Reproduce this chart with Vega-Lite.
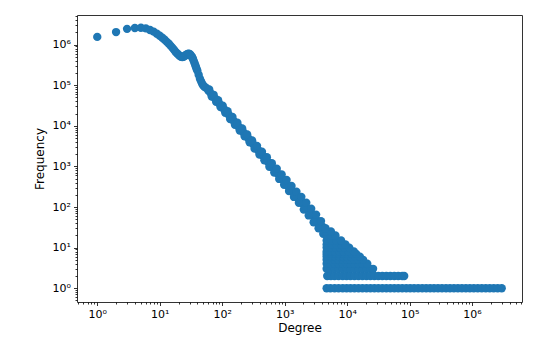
{
"$schema": "https://vega.github.io/schema/vega-lite/v6.json",
"width": 445, "height": 287,
"autosize": {"type": "none"},
"padding": {"left": 77, "top": 15, "right": 16, "bottom": 49},
"background": "white",
"config": {"view": {"stroke": "#333333", "strokeWidth": 1}, "font": "DejaVu Sans"},
"data": {"values": [
{"d":1,"f":1550000},{"d":2,"f":2040000},{"d":3,"f":2450000},{"d":4,"f":2570000},{"d":5,"f":2600000},{"d":6,"f":2510000},{"d":7,"f":2290000},{"d":8,"f":2090000},{"d":9,"f":1860000},{"d":10,"f":1660000},
{"d":11,"f":1480000},{"d":12,"f":1320000},{"d":13,"f":1170000},{"d":14,"f":1050000},{"d":15,"f":933000},{"d":16,"f":832000},{"d":17,"f":741000},{"d":18,"f":661000},{"d":19,"f":610000},{"d":20,"f":562000},
{"d":21,"f":525000},{"d":22,"f":501000},{"d":23,"f":495000},{"d":24,"f":501000},{"d":25,"f":525000},{"d":26,"f":550000},{"d":27,"f":575000},{"d":28,"f":589000},{"d":29,"f":596000},{"d":30,"f":589000},
{"d":31,"f":562000},{"d":32,"f":525000},{"d":33,"f":490000},{"d":34,"f":447000},{"d":35,"f":398000},{"d":36,"f":355000},{"d":37,"f":316000},{"d":38,"f":282000},{"d":39,"f":251000},{"d":40,"f":229000},
{"d":42,"f":182000},{"d":44,"f":145000},{"d":46,"f":123000},{"d":48,"f":107000},{"d":50,"f":97700},{"d":52,"f":91200},{"d":55,"f":86900},{"d":60,"f":74100},{"d":65,"f":63900},{"d":70,"f":55800},
{"d":76,"f":48000},{"d":83,"f":40800},{"d":90,"f":35200},{"d":98,"f":30100},{"d":107,"f":25600},{"d":117,"f":21700},{"d":128,"f":18400},{"d":140,"f":15600},{"d":153,"f":13200},{"d":167,"f":11300},
{"d":183,"f":9530},{"d":200,"f":8090},{"d":219,"f":6860},{"d":240,"f":5780},{"d":263,"f":4890},{"d":288,"f":4140},{"d":315,"f":3510},{"d":345,"f":2970},{"d":378,"f":2510},{"d":414,"f":2120},
{"d":453,"f":1790},{"d":496,"f":1520},{"d":543,"f":1290},{"d":595,"f":1090},{"d":651,"f":923},{"d":713,"f":782},{"d":781,"f":661},{"d":855,"f":559},{"d":936,"f":473},{"d":1025,"f":400},
{"d":1122,"f":339},{"d":1229,"f":286},{"d":1345,"f":242},{"d":1473,"f":205},{"d":1613,"f":173},{"d":1766,"f":147},{"d":1933,"f":124},{"d":2117,"f":105},{"d":2318,"f":89},{"d":2538,"f":75},
{"d":2779,"f":64},{"d":3043,"f":54},{"d":3331,"f":46},{"d":3648,"f":39},{"d":3994,"f":33},{"d":4300,"f":29},
{"d":62,"f":78300},{"d":68,"f":52500},{"d":73,"f":58000},{"d":80,"f":38900},{"d":86,"f":42900},{"d":94,"f":28900},{"d":102,"f":31300},{"d":112,"f":20900},{"d":122,"f":23000},{"d":134,"f":14700},
{"d":146,"f":16600},{"d":160,"f":10600},{"d":175,"f":11900},{"d":191,"f":7670},{"d":209,"f":8570},{"d":229,"f":5490},{"d":251,"f":6110},{"d":275,"f":3920},{"d":301,"f":4380},{"d":330,"f":2740},
{"d":361,"f":3210},{"d":395,"f":1970},{"d":433,"f":2290},{"d":474,"f":1410},{"d":519,"f":1680},{"d":569,"f":982},{"d":623,"f":1200},{"d":682,"f":704},{"d":747,"f":881},{"d":818,"f":492},
{"d":895,"f":631},{"d":980,"f":353},{"d":1073,"f":462},{"d":1175,"f":247},{"d":1287,"f":331},{"d":1409,"f":177},{"d":1543,"f":237},{"d":1690,"f":127},{"d":1849,"f":178},{"d":2025,"f":87},
{"d":2217,"f":127},{"d":2428,"f":62},{"d":2658,"f":91},{"d":2910,"f":42},{"d":3187,"f":65},{"d":3490,"f":30},{"d":3820,"f":45},{"d":4150,"f":22},
{"d":4700,"f":1},{"d":5400,"f":1},{"d":6300,"f":1},{"d":7300,"f":1},{"d":8500,"f":1},{"d":9800,"f":1},{"d":11300,"f":1},{"d":13100,"f":1},{"d":15200,"f":1},{"d":17600,"f":1},
{"d":20400,"f":1},{"d":23600,"f":1},{"d":27300,"f":1},{"d":31600,"f":1},{"d":36600,"f":1},{"d":42400,"f":1},{"d":49100,"f":1},{"d":56900,"f":1},{"d":65800,"f":1},{"d":76200,"f":1},
{"d":88300,"f":1},{"d":102000,"f":1},{"d":118000,"f":1},{"d":137000,"f":1},{"d":159000,"f":1},{"d":184000,"f":1},{"d":213000,"f":1},{"d":246000,"f":1},{"d":285000,"f":1},{"d":330000,"f":1},
{"d":383000,"f":1},{"d":443000,"f":1},{"d":513000,"f":1},{"d":594000,"f":1},{"d":688000,"f":1},{"d":797000,"f":1},{"d":923000,"f":1},{"d":1068000,"f":1},{"d":1237000,"f":1},{"d":1432000,"f":1},
{"d":1659000,"f":1},{"d":1921000,"f":1},{"d":2224000,"f":1},{"d":2575000,"f":1},{"d":2982000,"f":1},
{"d":4800,"f":2},{"d":5500,"f":2},{"d":6300,"f":2},{"d":7300,"f":2},{"d":8500,"f":2},{"d":9800,"f":2},{"d":11300,"f":2},{"d":13100,"f":2},{"d":15200,"f":2},{"d":17600,"f":2},
{"d":20400,"f":2},{"d":23600,"f":2},{"d":27300,"f":2},{"d":31600,"f":2},{"d":36600,"f":2},{"d":42400,"f":2},{"d":49100,"f":2},{"d":56900,"f":2},{"d":65800,"f":2},{"d":76200,"f":2},{"d":82000,"f":2},
{"d":4700,"f":3},{"d":5400,"f":3},{"d":6300,"f":3},{"d":7300,"f":3},{"d":8500,"f":3},{"d":9800,"f":3},{"d":11300,"f":3},{"d":13100,"f":3},{"d":15200,"f":3},{"d":17600,"f":3},{"d":20400,"f":3},{"d":23600,"f":3},{"d":26000,"f":3},
{"d":4700,"f":4},{"d":5400,"f":4},{"d":6300,"f":4},{"d":7300,"f":4},{"d":8500,"f":4},{"d":9800,"f":4},{"d":11300,"f":4},{"d":13100,"f":4},{"d":15200,"f":4},{"d":17600,"f":4},{"d":21000,"f":4},
{"d":4700,"f":5},{"d":5400,"f":5},{"d":6300,"f":5},{"d":7300,"f":5},{"d":8500,"f":5},{"d":9800,"f":5},{"d":11300,"f":5},{"d":13100,"f":5},{"d":15200,"f":5},{"d":18000,"f":5},
{"d":4700,"f":6},{"d":5500,"f":6},{"d":6400,"f":6},{"d":7400,"f":6},{"d":8600,"f":6},{"d":10000,"f":6},{"d":11600,"f":6},{"d":13500,"f":6},{"d":16000,"f":6},
{"d":4700,"f":7},{"d":5500,"f":7},{"d":6400,"f":7},{"d":7400,"f":7},{"d":8600,"f":7},{"d":10000,"f":7},{"d":11800,"f":7},{"d":14000,"f":7},
{"d":4700,"f":8},{"d":5500,"f":8},{"d":6400,"f":8},{"d":7500,"f":8},{"d":8800,"f":8},{"d":10500,"f":8},{"d":12800,"f":8},
{"d":4700,"f":10},{"d":5500,"f":10},{"d":6500,"f":10},{"d":7700,"f":10},{"d":9100,"f":10},{"d":10800,"f":10},
{"d":4700,"f":12},{"d":5600,"f":12},{"d":6700,"f":12},{"d":8000,"f":12},{"d":9400,"f":12},
{"d":4700,"f":15},{"d":5600,"f":15},{"d":6700,"f":15},{"d":8000,"f":15},
{"d":4700,"f":20},{"d":5500,"f":20},{"d":6500,"f":20},
{"d":4600,"f":25},{"d":5500,"f":25},{"d":4500,"f":30}
]},
"mark": {"type": "circle", "size": 70, "color": "#1f77b4", "opacity": 1},
"encoding": {
 "x": {"field": "d", "type": "quantitative",
  "scale": {"type": "log", "domain": [0.474, 6300000], "nice": false},
  "axis": {"title": "Degree",
   "values": [0.5,0.6,0.7,0.8,0.9,1,2,3,4,5,6,7,8,9,10,20,30,40,50,60,70,80,90,100,200,300,400,500,600,700,800,900,1000,2000,3000,4000,5000,6000,7000,8000,9000,10000,20000,30000,40000,50000,60000,70000,80000,90000,100000,200000,300000,400000,500000,600000,700000,800000,900000,1000000,2000000,3000000,4000000,5000000,6000000],
   "labelExpr": "abs(log(datum.value)/LN10 - round(log(datum.value)/LN10)) < 0.001 ? '10' + ['⁰','¹','²','³','⁴','⁵','⁶'][round(log(datum.value)/LN10)] : ''",
   "labelOverlap": false, "labelFlush": false, "grid": false, "domain": false,
   "tickColor": "#000000", "tickWidth": 0.8,
   "tickSize": {"condition": {"test": "abs(log(datum.value)/LN10 - round(log(datum.value)/LN10)) < 0.001", "value": 3.5}, "value": 2},
   "labelFontSize": 11, "labelColor": "#000000", "labelPadding": 3,
   "titleFontSize": 12, "titleFontWeight": "normal", "titleColor": "#000000", "titlePadding": 3}},
 "y": {"field": "f", "type": "quantitative",
  "scale": {"type": "log", "domain": [0.457, 5370000], "nice": false},
  "axis": {"title": "Frequency",
   "values": [0.5,0.6,0.7,0.8,0.9,1,2,3,4,5,6,7,8,9,10,20,30,40,50,60,70,80,90,100,200,300,400,500,600,700,800,900,1000,2000,3000,4000,5000,6000,7000,8000,9000,10000,20000,30000,40000,50000,60000,70000,80000,90000,100000,200000,300000,400000,500000,600000,700000,800000,900000,1000000,2000000,3000000,4000000,5000000],
   "labelExpr": "abs(log(datum.value)/LN10 - round(log(datum.value)/LN10)) < 0.001 ? '10' + ['⁰','¹','²','³','⁴','⁵','⁶'][round(log(datum.value)/LN10)] : ''",
   "labelOverlap": false, "labelFlush": false, "grid": false, "domain": false,
   "tickColor": "#000000", "tickWidth": 0.8,
   "tickSize": {"condition": {"test": "abs(log(datum.value)/LN10 - round(log(datum.value)/LN10)) < 0.001", "value": 3.5}, "value": 2},
   "labelFontSize": 11, "labelColor": "#000000", "labelPadding": 3,
   "titleFontSize": 12, "titleFontWeight": "normal", "titleColor": "#000000", "titlePadding": 6}}
}
}
